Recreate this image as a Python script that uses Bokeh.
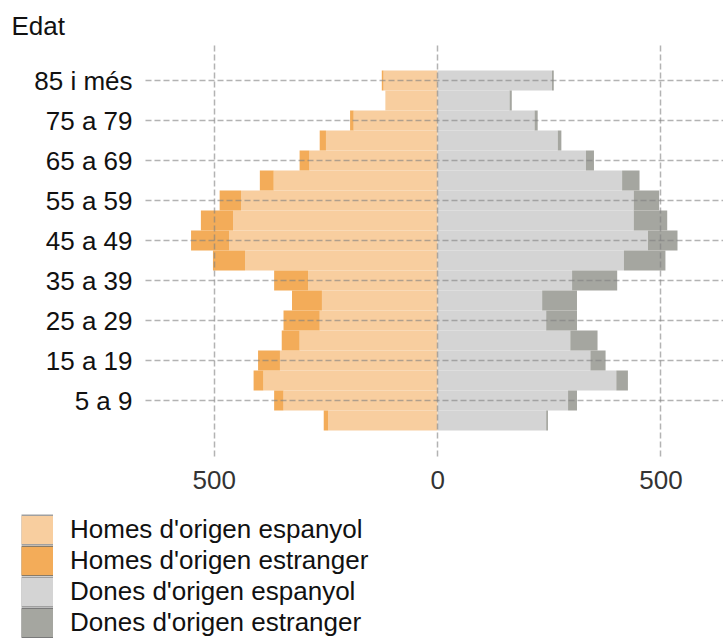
from bokeh.plotting import figure
from bokeh.layouts import column
from bokeh.models import ColumnDataSource, FixedTicker, Legend, LegendItem, Range1d
from bokeh.embed import file_html
from bokeh.resources import INLINE

ages = ["0 a 4", "5 a 9", "10 a 14", "15 a 19", "20 a 24", "25 a 29", "30 a 34",
        "35 a 39", "40 a 44", "45 a 49", "50 a 54", "55 a 59", "60 a 64", "65 a 69",
        "70 a 74", "75 a 79", "80 a 84", "85 i més"]
men_spanish = [245, 345, 390, 353, 309, 264, 259, 290, 431, 467, 458, 440, 367, 287, 250, 188, 117, 121]
men_foreign = [10, 21, 22, 49, 40, 81, 67, 76, 72, 85, 72, 48, 31, 22, 14, 8, 0, 4]
women_spanish = [243, 292, 400, 342, 297, 243, 234, 301, 417, 471, 439, 439, 413, 332, 269, 217, 161, 256]
women_foreign = [4, 20, 26, 34, 61, 69, 78, 101, 93, 66, 75, 57, 39, 18, 8, 7, 5, 4]
series_names = ["Homes d'origen espanyol", "Homes d'origen estranger",
                "Dones d'origen espanyol", "Dones d'origen estranger"]
x_ticks = [-500, 0, 500]

FONT = "Liberation Sans"
FS = "26px"
C_MS, C_MF, C_WS, C_WF = "#F8CE9F", "#F3AC59", "#D4D4D4", "#A5A6A0"

idx = list(range(len(ages)))
src = ColumnDataSource(dict(
    y=idx,
    ms_l=[-v for v in men_spanish], ms_r=[0] * len(idx),
    mf_l=[-(a + b) for a, b in zip(men_spanish, men_foreign)], mf_r=[-v for v in men_spanish],
    ws_l=[0] * len(idx), ws_r=women_spanish,
    wf_l=women_spanish, wf_r=[a + b for a, b in zip(women_spanish, women_foreign)],
))

p = figure(width=723, height=505, output_backend="svg", toolbar_location=None,
           x_range=Range1d(-654, 640), y_range=Range1d(-1.8, 18.75),
           min_border_left=145, min_border_right=0, min_border_top=45,
           min_border_bottom=49, outline_line_color=None)

p.hbar(y="y", left="ms_l", right="ms_r", height=1, source=src, fill_color=C_MS, line_color=None)
p.hbar(y="y", left="mf_l", right="mf_r", height=1, source=src, fill_color=C_MF, line_color=None)
p.hbar(y="y", left="ws_l", right="ws_r", height=1, source=src, fill_color=C_WS, line_color=None)
p.hbar(y="y", left="wf_l", right="wf_r", height=1, source=src, fill_color=C_WF, line_color=None)

# title
p.title.text = "Edat"
p.title.text_font = FONT
p.title.text_font_size = FS
p.title.text_font_style = "normal"
p.title.text_color = "#111111"
p.title.align = "left"
p.title.offset = -134
p.title.standoff = 10

# axes
p.yaxis.ticker = FixedTicker(ticks=list(range(1, len(ages), 2)))
p.yaxis.major_label_overrides = {i: ages[i] for i in range(1, len(ages), 2)}
p.xaxis.ticker = FixedTicker(ticks=x_ticks)
p.xaxis.major_label_overrides = {t: str(abs(t)) for t in x_ticks}
for ax in (p.xaxis, p.yaxis):
    ax.axis_line_color = None
    ax.major_tick_line_color = None
    ax.minor_tick_line_color = None
    ax.major_tick_out = 0
    ax.major_tick_in = 0
    ax.minor_tick_out = 0
    ax.major_label_text_font = FONT
    ax.major_label_text_font_size = FS
p.yaxis.major_label_standoff = 13
p.xaxis.major_label_standoff = 14
p.yaxis.major_label_text_color = "#111111"
p.xaxis.major_label_text_color = "#333333"

for g in (p.xgrid, p.ygrid):
    g.grid_line_color = "#808080"
    g.grid_line_alpha = 0.6
    g.grid_line_width = 1.5
    g.grid_line_dash = "6 3"
    g.level = "overlay"

# legend panel (separate figure, frame covers its whole canvas)
lf = figure(width=723, height=135, output_backend="svg", toolbar_location=None,
            x_range=Range1d(0, 1), y_range=Range1d(0, 1), x_axis_type=None, y_axis_type=None,
            min_border=0, min_border_left=0, min_border_right=0, min_border_top=0,
            min_border_bottom=0, outline_line_color=None)
lf.grid.visible = False
borders = ["#a0a0a0", "#8a7b66", "#a0a0a0", "#7a7a7a"]
fills = [C_MS, C_MF, C_WS, C_WF]
cols = [("ms_l", "ms_r"), ("mf_l", "mf_r"), ("ws_l", "ws_r"), ("wf_l", "wf_r")]
items = []
for name, c, b, (cl, cr) in zip(series_names, fills, borders, cols):
    rb = lf.line(x=cl, y="y", source=src, line_color=b, line_width=31, line_cap="butt", visible=False)
    rf = lf.line(x=cr, y="y", source=src, line_color=c, line_width=28, line_cap="butt", visible=False)
    items.append(LegendItem(label=name, renderers=[rb, rf]))

legend = Legend(items=items, location=(21, 2), orientation="vertical",
                glyph_width=32, glyph_height=31, spacing=0, padding=0, margin=0,
                label_standoff=17, border_line_color=None, background_fill_alpha=0,
                label_text_font=FONT, label_text_font_size=FS, label_text_color="#111111")
lf.add_layout(legend, "center")

layout = column(p, column(lf, spacing=0), spacing=0)
open("out.html", "w").write(file_html(layout, INLINE))
